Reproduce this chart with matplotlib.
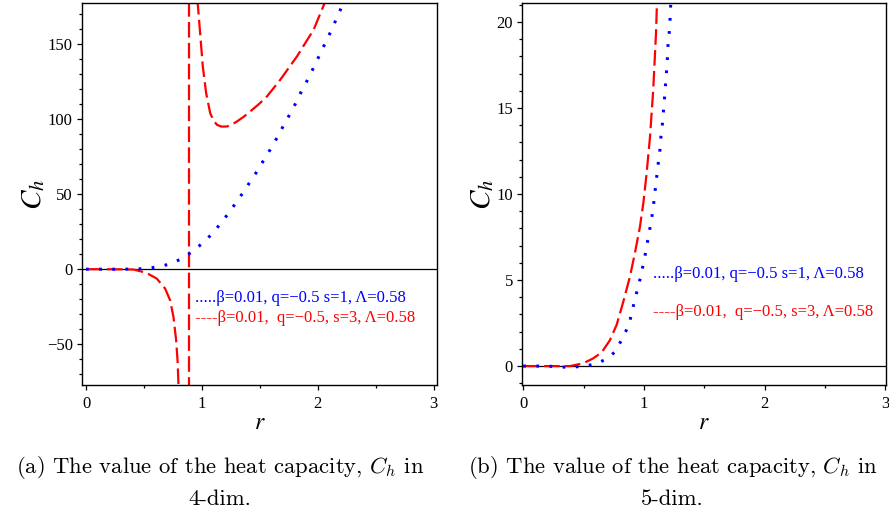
import numpy as np
import matplotlib
matplotlib.use('Agg')
import matplotlib.pyplot as plt
from matplotlib.ticker import MultipleLocator

plt.rcParams['font.family'] = ['Liberation Serif', 'DejaVu Serif']
plt.rcParams['mathtext.fontset'] = 'stix'

# ---- 4-dim data ----
blue4_r = [0.0, 0.1, 0.2, 0.3, 0.4, 0.52, 0.617, 0.718, 0.81, 0.893, 0.974, 1.049, 1.118, 1.18,
           1.242, 1.30, 1.357, 1.412, 1.467, 1.52, 1.573, 1.625, 1.674, 1.72, 1.77, 1.816,
           1.862, 1.908, 1.954, 1.997, 2.04, 2.084, 2.127, 2.167, 2.207, 2.25]
blue4_c = [0.0, 0.0, 0.0, 0.0, 0.1, 0.4, 1.6, 3.3, 6.4, 10.4, 15.3, 20.4, 26.2, 32.2,
           38.4, 44.9, 51.1, 57.6, 64.0, 70.7, 77.3, 84.2, 90.9, 97.8, 104.4, 111.3,
           118.7, 125.3, 132.4, 139.3, 146.4, 153.3, 160.4, 167.6, 174.4, 182.0]

red4a_r = [0.0, 0.2, 0.41, 0.52, 0.61, 0.683, 0.726, 0.755, 0.778, 0.79, 0.798, 0.802]
red4a_c = [0.0, 0.0, -0.2, -2.4, -6.2, -12.9, -20.7, -31.8, -47.3, -60.7, -76.0, -85.0]
red4_pole_r = [0.888, 0.888]
red4_pole_c = [-200, 200]
red4b_r = [0.958, 0.962, 0.985, 1.008, 1.037, 1.072, 1.10, 1.13, 1.17, 1.216, 1.26, 1.302,
           1.36, 1.417, 1.49, 1.562, 1.677, 1.821, 1.965, 2.06, 2.08]
red4b_c = [190.0, 179.0, 157.0, 134.9, 117.0, 103.8, 99.0, 96.0, 94.8, 94.9, 96.2, 98.2,
           101.3, 104.9, 109.6, 114.9, 126.0, 141.5, 159.3, 177.0, 181.0]

# ---- 5-dim data ----
blue5_r = [0.0, 0.116, 0.2, 0.31, 0.41, 0.506, 0.6, 0.683, 0.757, 0.807, 0.849, 0.884, 0.929,
           0.953, 0.975, 0.995, 1.014, 1.031, 1.047, 1.064, 1.078, 1.089, 1.1, 1.111, 1.122,
           1.133, 1.141, 1.152, 1.16, 1.169, 1.175, 1.183, 1.19, 1.196, 1.2, 1.21, 1.216,
           1.22, 1.226]
blue5_c = [0.0, 0.0, 0.0, -0.06, -0.06, 0.0, 0.12, 0.39, 0.8, 1.42, 2.0, 2.64, 4.0,
           4.62, 5.28, 5.94, 6.6, 7.29, 7.91, 8.59, 9.27, 9.97, 10.67, 11.31, 11.99,
           12.6, 13.35, 14.0, 14.7, 15.4, 16.06, 16.7, 17.4, 18.08, 18.78, 19.42, 20.1,
           20.8, 21.5]

red5_r = [0.0, 0.2, 0.387, 0.497, 0.58, 0.65, 0.718, 0.774, 0.829, 0.884, 0.925, 0.967,
          0.995, 1.022, 1.05, 1.077, 1.1, 1.11]
red5_c = [0.0, 0.0, 0.0, 0.16, 0.45, 0.8, 1.5, 2.4, 3.74, 5.2, 6.56, 8.1,
          9.47, 11.2, 13.3, 16.06, 19.36, 21.6]

blue_label = '.....β=0.01, q=−0.5 s=1, Λ=0.58'
red_label = '----β=0.01,  q=−0.5, s=3, Λ=0.58'

dot_style = dict(color='blue', lw=2.2, linestyle=(0, (0.9, 3.4)), dash_capstyle='butt')
dash_style = dict(color='red', lw=1.6, linestyle=(0, (7.0, 2.4)))

fig = plt.figure(figsize=(8.89, 5.17), dpi=100)
ax1 = fig.add_axes([0.0922, 0.2553, 0.3994, 0.7389])
ax2 = fig.add_axes([0.5872, 0.2553, 0.4094, 0.7389])


def style_axes(ax, ymajor, yminor):
    ax.xaxis.set_major_locator(MultipleLocator(1))
    ax.xaxis.set_minor_locator(MultipleLocator(0.5))
    ax.yaxis.set_major_locator(MultipleLocator(ymajor))
    ax.yaxis.set_minor_locator(MultipleLocator(yminor))
    ax.tick_params(which='major', direction='out', length=3.6, width=0.9, labelsize=12, pad=3,
                   labelfontfamily='Liberation Serif')
    ax.tick_params(which='minor', direction='out', length=2.0, width=0.9)
    ax.tick_params(axis='x', which='major', pad=4)
    for sp in ax.spines.values():
        sp.set_linewidth(1.0)
    ax.axhline(0, color='black', lw=0.9, zorder=1)
    ax.set_xlabel('$r$', fontsize=17, labelpad=1)
    ax.set_ylabel('$C_h$', fontsize=21, labelpad=0)


# left panel
ax1.plot(red4a_r, red4a_c, **dash_style)
ax1.plot(red4_pole_r, red4_pole_c, **dash_style)
ax1.plot(red4b_r, red4b_c, **dash_style)
ax1.plot(blue4_r, blue4_c, **dot_style)
ax1.set_xlim(-0.035, 3.03)
ax1.set_ylim(-77, 177)
style_axes(ax1, 50, 10)
ax1.text(0.318, 0.228, blue_label, transform=ax1.transAxes, color='blue', fontsize=12,
         va='center')
ax1.text(0.318, 0.175, red_label, transform=ax1.transAxes, color='red', fontsize=12,
         va='center')

# right panel
ax2.plot(red5_r, red5_c, **dash_style)
ax2.plot(blue5_r, blue5_c, **dot_style)
ax2.set_xlim(-0.01, 3.005)
ax2.set_ylim(-1.1, 21.1)
style_axes(ax2, 5, 1)
ax2.text(0.36, 0.29, blue_label, transform=ax2.transAxes, color='blue', fontsize=12,
         va='center')
ax2.text(0.36, 0.19, red_label, transform=ax2.transAxes, color='red', fontsize=12,
         va='center')

# captions
cap = dict(ha='center', va='center', fontsize=16.3, family='cmr10', math_fontfamily='cm')
fig.text(0.2475, 0.0948, r'(a) The value of the heat capacity, $C_h$ in', **cap)
fig.text(0.2475, 0.0348, '4-dim.', **cap)
fig.text(0.757, 0.0948, r'(b) The value of the heat capacity, $C_h$ in', **cap)
fig.text(0.756, 0.0348, '5-dim.', **cap)

fig.savefig('out.png', dpi=100)
